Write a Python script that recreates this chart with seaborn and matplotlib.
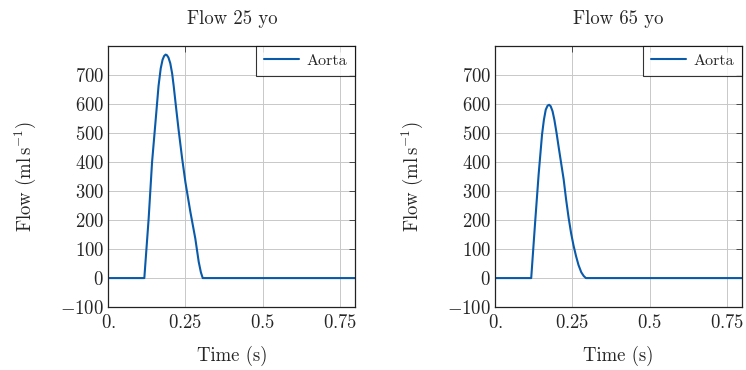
import matplotlib
matplotlib.use("Agg")
import matplotlib.pyplot as plt
import seaborn as sns
import numpy as np
import pandas as pd

# flow curves (time in s, flow in ml/s)
t_25 = [0.0, 0.117, 0.131, 0.142, 0.153, 0.163, 0.170, 0.176, 0.181, 0.186, 0.190,
        0.195, 0.201, 0.207, 0.212, 0.220, 0.228, 0.239, 0.250, 0.266, 0.282, 0.293,
        0.300, 0.306, 0.8]
q_25 = [0, 0, 205, 399, 536, 662, 722, 752, 765, 770, 768,
        760, 740, 705, 662, 585, 510, 415, 330, 228, 136, 56,
        20, 0, 0]

t_65 = [0.0, 0.117, 0.130, 0.141, 0.152, 0.158, 0.164, 0.170, 0.175, 0.180, 0.186,
        0.192, 0.199, 0.206, 0.214, 0.222, 0.230, 0.238, 0.246, 0.254, 0.262,
        0.270, 0.279, 0.287, 0.294, 0.8]
q_65 = [0, 0, 197, 357, 494, 545, 580, 594, 597, 592, 575,
        545, 500, 450, 395, 340, 270, 208, 155, 112, 76,
        45, 20, 7, 0, 0]

titles = ["Flow 25 yo", "Flow 65 yo"]
series_name = "Aorta"
xticks = [0, 0.25, 0.5, 0.75]
xtick_labels = ["0.", "0.25", "0.5", "0.75"]
yticks = [-100, 0, 100, 200, 300, 400, 500, 600, 700]

sns.set_style("white")
plt.rcParams["font.family"] = ["cmr10", "DejaVu Serif"]
plt.rcParams["mathtext.fontset"] = "cm"
plt.rcParams["axes.unicode_minus"] = True

fig, axes = plt.subplots(1, 2, figsize=(7.46, 3.7), dpi=100)
fig.subplots_adjust(left=0.145, right=0.995, top=0.876, bottom=0.17, wspace=0.565)

line_color = "#0a5aaa"
for ax, t, q, title in zip(axes, [t_25, t_65], [q_25, q_65], titles):
    df = pd.DataFrame({"Time": t, "Flow": q, "Vessel": series_name})
    sns.lineplot(data=df, x="Time", y="Flow", hue="Vessel", palette=[line_color],
                 linewidth=1.5, ax=ax)
    ax.set_xlim(0, 0.8)
    ax.set_ylim(-100, 800)
    ax.set_xticks(xticks)
    ax.set_xticklabels(["$" + s + "$" for s in xtick_labels])
    ax.set_yticks(yticks)
    ax.set_yticklabels(["$" + str(v) + "$" for v in yticks])
    ax.grid(True, color="#c8c8c8", linewidth=0.7)
    ax.set_axisbelow(True)
    ax.tick_params(direction="in", top=True, right=True, length=4, width=0.6,
                   labelsize=13.5, color="#333333")
    ax.tick_params(axis="x", pad=5)
    ax.tick_params(axis="y", pad=3)
    for sp in ax.spines.values():
        sp.set_color("#222222")
        sp.set_linewidth(0.9)
    ax.set_title(title, fontsize=13.5, pad=16)
    ax.set_xlabel("Time (s)", fontsize=13.5, labelpad=10)
    ax.set_ylabel(r"Flow $(\mathrm{ml\,s^{-1}})$", fontsize=13.5, labelpad=16)
    leg = ax.legend(loc="upper right", fontsize=11.5, frameon=True, fancybox=False,
                    borderaxespad=0.0, handlelength=2.2, borderpad=0.5,
                    handletextpad=0.5)
    leg.get_frame().set_edgecolor("black")
    leg.get_frame().set_linewidth(0.8)
    leg.set_title(None)

fig.savefig("out.png", dpi=100)
